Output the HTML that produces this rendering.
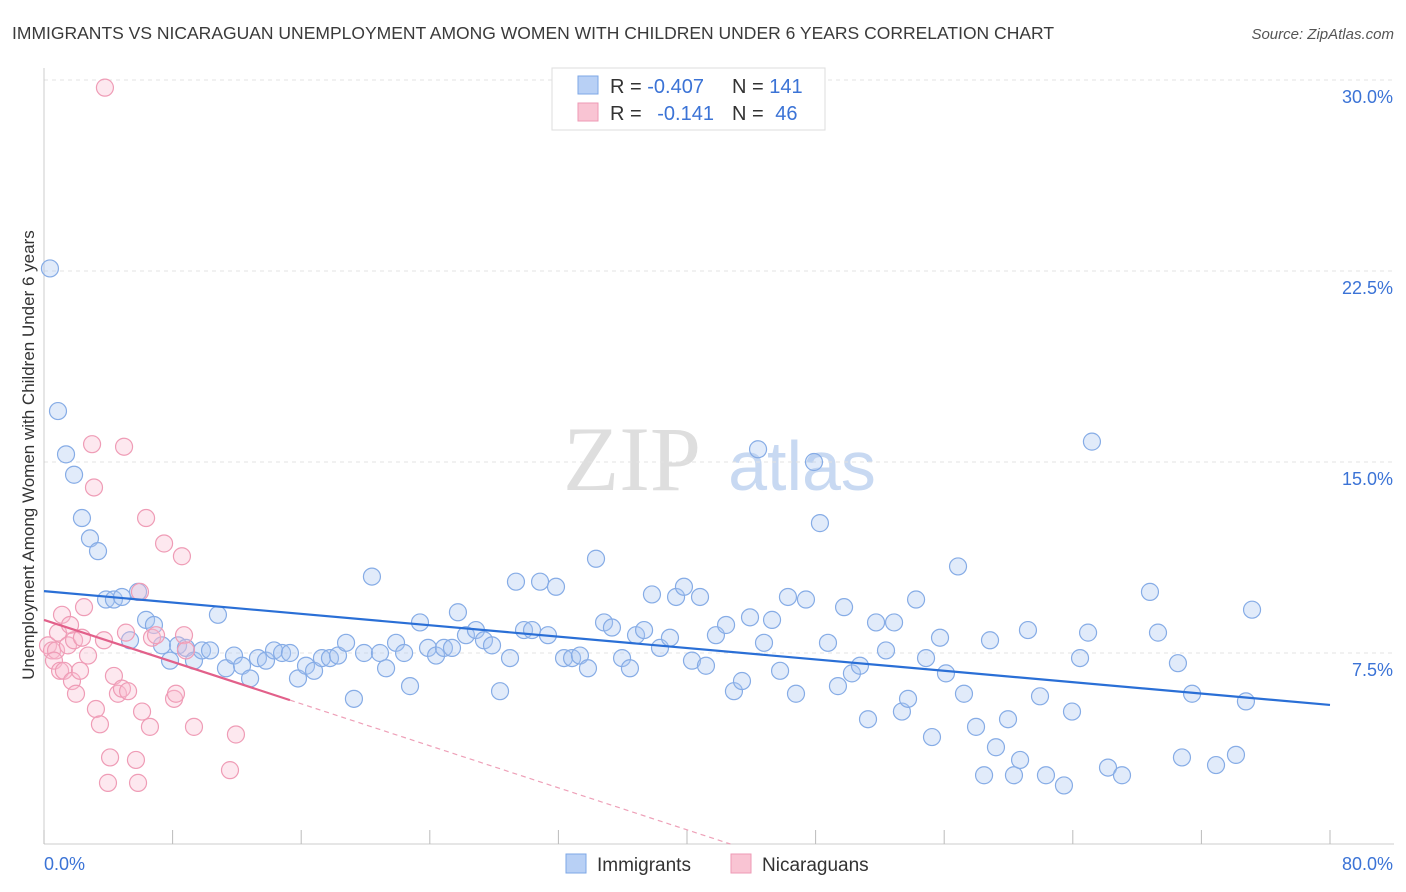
<!DOCTYPE html>
<html><head><meta charset="utf-8"><style>
body{margin:0;background:#fff;font-family:"Liberation Sans",sans-serif;}
#wrap{position:relative;width:1406px;height:892px;overflow:hidden;}
</style></head><body>
<div id="wrap">
<svg id="chart" width="1406" height="892">
<text x="12" y="39" font-size="17.5" fill="#3a3a3a">IMMIGRANTS VS NICARAGUAN UNEMPLOYMENT AMONG WOMEN WITH CHILDREN UNDER 6 YEARS CORRELATION CHART</text>
<text x="1394" y="39" font-size="15" fill="#555" font-style="italic" text-anchor="end">Source: ZipAtlas.com</text>
<text x="0" y="0" transform="translate(34,455) rotate(-90)" font-size="17" fill="#333" text-anchor="middle">Unemployment Among Women with Children Under 6 years</text>
<g><text x="632" y="490" font-size="92" font-family="Liberation Serif,serif" fill="#dedede" text-anchor="middle">ZIP</text><text x="802" y="490" font-size="70" fill="#c8d9f2" text-anchor="middle">atlas</text></g>
<g id="grid"></g><g id="axes"></g><g id="pts"></g><g id="lines"></g>
<g>
<rect x="552" y="68" width="273" height="62" fill="#fff" stroke="#ddd"/>
<rect x="578" y="76" width="20" height="18" fill="#b8d0f5" stroke="#7ea7e6"/>
<rect x="578" y="103" width="20" height="18" fill="#f9c4d3" stroke="#ee9ab4"/>
<text x="610" y="93" font-size="20" fill="#333">R = <tspan fill="#3b73d6">-0.407</tspan></text>
<text x="732" y="93" font-size="20" fill="#333">N = <tspan fill="#3b73d6">141</tspan></text>
<text x="610" y="120" font-size="20" fill="#333">R = <tspan fill="#3b73d6" dx="10">-0.141</tspan></text>
<text x="732" y="120" font-size="20" fill="#333">N = <tspan fill="#3b73d6" dx="6">46</tspan></text>
</g>
<g>
<rect x="566" y="854" width="20" height="19" fill="#b8d0f5" stroke="#7ea7e6"/>
<text x="597" y="871" font-size="19" fill="#333">Immigrants</text>
<rect x="731" y="854" width="20" height="19" fill="#f9c4d3" stroke="#ee9ab4"/>
<text x="762" y="871" font-size="19" fill="#333">Nicaraguans</text>
</g>
</svg></div>
<script>
const blueX=[.37,.87,1.37,1.87,2.36,2.86,3.36,3.86,4.35,4.85,5.35,5.85,6.35,6.84,7.34,7.84,8.34,8.83,9.33,9.83,10.33,10.82,11.32,11.82,12.32,12.82,13.31,13.81,14.31,14.81,15.3,15.8,16.3,16.8,17.29,17.79,18.29,18.79,19.28,19.91,20.4,20.9,21.28,21.9,22.4,22.77,23.39,23.89,24.39,24.88,25.38,25.75,26.25,26.87,27.37,27.87,28.37,28.99,29.36,29.86,30.36,30.86,31.35,31.85,32.35,32.85,33.34,33.84,34.34,34.84,35.33,35.96,36.45,36.83,37.33,37.82,38.32,38.94,39.32,39.81,40.31,40.81,41.18,41.8,42.43,42.92,43.42,43.92,44.42,44.79,45.29,45.79,46.28,46.78,47.4,47.9,48.27,48.77,49.39,49.77,50.26,50.76,51.26,51.76,52.38,52.88,53.37,53.75,54.25,54.87,55.24,55.74,56.11,56.86,57.23,57.98,58.48,58.85,59.22,59.97,60.34,60.72,61.21,61.96,62.33,63.45,63.95,64.45,64.95,65.19,66.19,67.06,68.8,69.3,70.54,70.79,71.42,72.91,74.15,74.77,75.15];
const blueY=[22.6,17.0,15.3,14.5,12.8,12.0,11.5,9.6,9.6,9.7,8.0,9.9,8.8,8.6,7.8,7.2,7.8,7.7,7.2,7.6,7.6,9.0,6.9,7.4,7.0,6.5,7.3,7.2,7.6,7.5,7.5,6.5,7.0,6.8,7.3,7.3,7.4,7.9,5.7,7.5,10.5,7.5,6.9,7.9,7.5,6.2,8.7,7.7,7.4,7.7,7.7,9.1,8.2,8.4,8.0,7.8,6.0,7.3,10.3,8.4,8.4,10.3,8.2,10.1,7.3,7.3,7.4,6.9,11.2,8.7,8.5,7.3,6.9,8.2,8.4,9.8,7.7,8.1,9.7,10.1,7.2,9.7,7.0,8.2,8.6,6.0,6.4,8.9,15.5,7.9,8.8,6.8,9.7,5.9,9.6,15.0,12.6,7.9,6.2,9.3,6.7,7.0,4.9,8.7,7.6,8.7,5.2,5.7,9.6,7.3,4.2,8.1,6.7,10.9,5.9,4.6,2.7,8.0,3.8,4.9,2.7,3.3,8.4,5.8,2.7,2.3,5.2,7.3,8.3,15.8,3.0,2.7,9.9,8.3,7.1,3.4,5.9,3.1,3.5,5.6,9.2];
const pinkX=[3.79,.25,.5,.75,.62,.87,1.0,1.12,1.24,1.49,1.62,1.74,1.87,1.99,2.24,2.36,2.49,2.74,2.99,3.11,3.23,3.48,3.73,3.98,4.11,4.35,4.6,4.85,4.98,5.1,5.23,5.72,5.85,5.97,6.1,6.35,6.59,6.72,6.97,7.47,8.09,8.21,8.58,8.71,8.83,9.33,11.57,11.94];
const pinkY=[29.7,7.8,7.6,7.6,7.2,8.3,6.8,9.0,6.8,7.8,8.6,6.4,8.0,5.9,6.8,8.1,9.3,7.4,15.7,14.0,5.3,4.7,8.0,2.4,3.4,6.6,5.9,6.1,15.6,8.3,6.0,3.3,2.4,9.9,5.2,12.8,4.6,8.1,8.2,11.8,5.7,5.9,11.3,8.2,7.6,4.6,2.9,4.3];
const blueTrend=[9.93,5.46];
const pinkTrend=[8.8,5.65,0];
const pinkTrendX=[0,15.3,42.7];
const yTicks=[7.5,15,22.5,30];
const yTickLabels=["7.5%","15.0%","22.5%","30.0%"];
const xTicks=[0,8,16,24,32,40,48,56,64,72,80];
const NS="http://www.w3.org/2000/svg";
const X=v=>44+v*1286/80, Y=v=>844-v*191/7.5;
function mk(t,a,p){const e=document.createElementNS(NS,t);for(const k in a)e.setAttribute(k,a[k]);p.appendChild(e);return e;}
const grid=document.getElementById('grid'),axes=document.getElementById('axes'),pts=document.getElementById('pts'),lines=document.getElementById('lines');
yTicks.forEach((t,i)=>{
 const l=mk('line',{x1:44,x2:1394,y1:Y(t),y2:Y(t),stroke:'#e3e3e3','stroke-dasharray':'4,4'},grid);
 
 
 const tx=mk('text',{x:1393,y:Y(t)+23,'font-size':18,fill:'#3b73d6','text-anchor':'end'},axes);
 tx.textContent=yTickLabels[i];
 
 
});
const ax=mk('line',{x1:44,x2:1394,y1:844,y2:844,stroke:'#ccc'},axes);


const ay=mk('line',{x1:44,x2:44,y1:68,y2:844,stroke:'#ccc'},axes);


xTicks.forEach(t=>{
 const l=mk('line',{x1:X(t),x2:X(t),y1:830,y2:844,stroke:'#bbb'},axes);
 
 
});
const xl0=mk('text',{x:44,y:870,'font-size':18,fill:'#3b73d6'},axes);xl0.textContent="0.0%";


const xl1=mk('text',{x:1393,y:870,'font-size':18,fill:'#3b73d6','text-anchor':'end'},axes);xl1.textContent="80.0%";


blueX.forEach((x,i)=>{
 const c=mk('circle',{cx:X(x),cy:Y(blueY[i]),r:8.5,fill:'rgba(170,199,242,0.35)',stroke:'#86ace6','stroke-width':1.2},pts);
 
 
});
pinkX.forEach((x,i)=>{
 const c=mk('circle',{cx:X(x),cy:Y(pinkY[i]),r:8.5,fill:'rgba(248,190,208,0.35)',stroke:'#ef9cb6','stroke-width':1.2},pts);
 
 
});
const bl=mk('line',{x1:X(0),y1:Y(blueTrend[0]),x2:X(80),y2:Y(blueTrend[1]),stroke:'#2a6fd6','stroke-width':2.2},lines);


const pl=mk('line',{x1:X(pinkTrendX[0]),y1:Y(pinkTrend[0]),x2:X(pinkTrendX[1]),y2:Y(pinkTrend[1]),stroke:'#e2608a','stroke-width':2.2},lines);


const pd=mk('line',{x1:X(pinkTrendX[1]),y1:Y(pinkTrend[1]),x2:X(pinkTrendX[2]),y2:Y(pinkTrend[2]),stroke:'#eea0b8','stroke-width':1.2,'stroke-dasharray':'5,4'},lines);


</script>
</body></html>
